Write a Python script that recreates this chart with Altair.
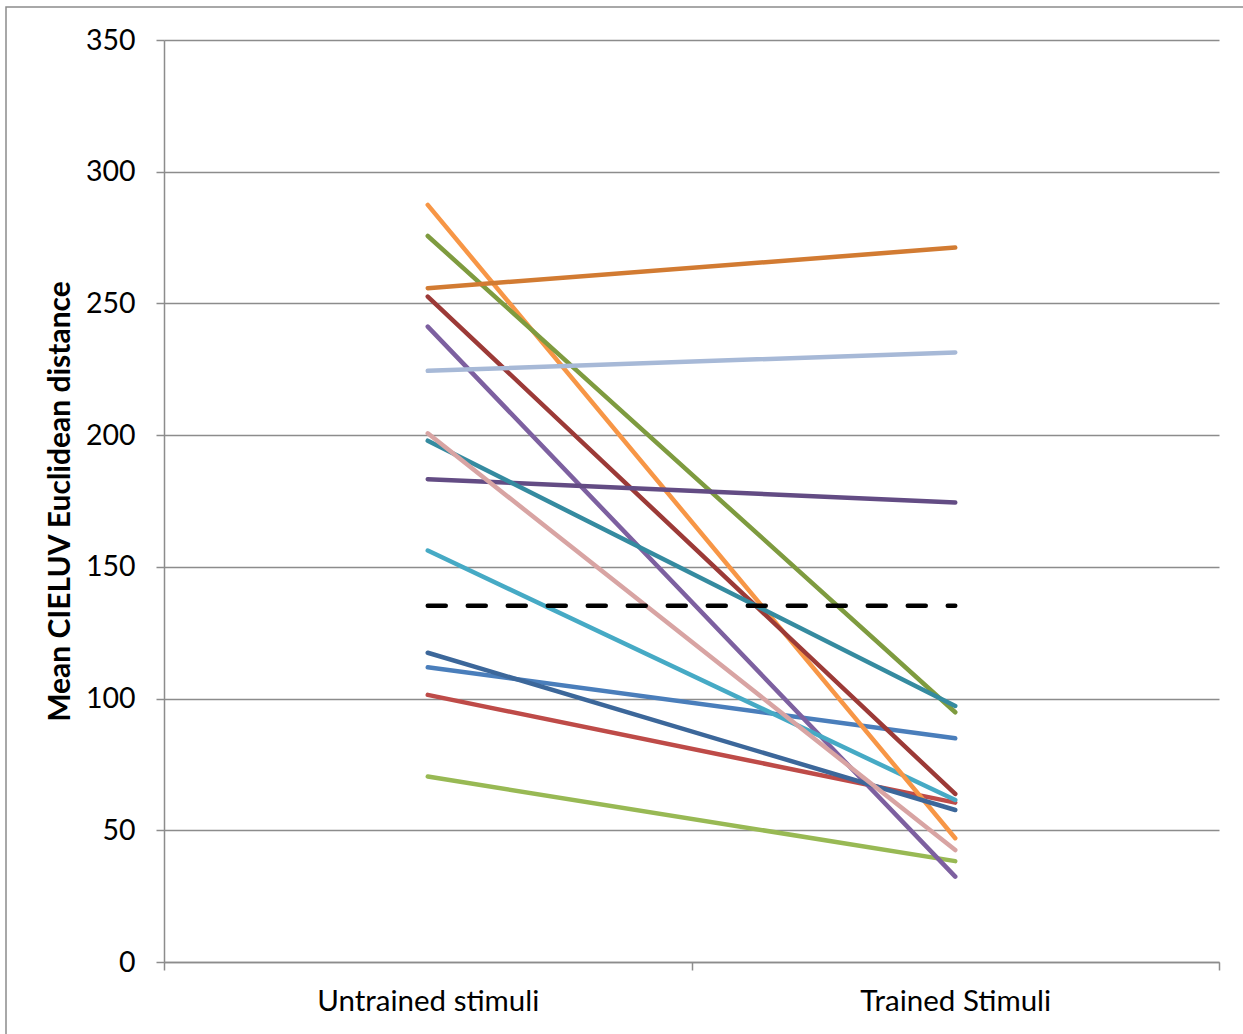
import altair as alt
import pandas as pd

conditions = ["Untrained stimuli", "Trained Stimuli"]
series = ["P1", "P2", "P3", "P4", "P5", "P6", "P7", "P8", "P9", "P10", "P11", "P12", "P13", "P14"]
untrained = [111.9, 101.4, 70.4, 241.2, 156.2, 287.4, 117.4, 252.6, 275.6, 183.3, 197.9, 255.8, 224.4, 200.7]
trained = [84.9, 60.5, 38.3, 32.4, 61.5, 47.0, 57.7, 63.8, 94.8, 174.4, 97.2, 271.2, 231.4, 42.5]
colors = ["#4A7EBB", "#BE4B48", "#98B954", "#7D60A0", "#46AAC5", "#F79646", "#3C679A",
          "#9C3A37", "#7E9B3F", "#634C84", "#358BA0", "#D27B32", "#A7B9D7", "#D8A4A3"]
threshold = [135.2, 135.2]

rows = []
for s, u, t in zip(series, untrained, trained):
    rows.append({"series": s, "condition": conditions[0], "value": u})
    rows.append({"series": s, "condition": conditions[1], "value": t})
df = pd.DataFrame(rows)
ref = pd.DataFrame({"condition": conditions, "value": threshold})

GRAY = "#8c8c8c"
FONT = "Lato"
pos_expr = "indexof(['Untrained stimuli', 'Trained Stimuli'], datum.condition) + 0.5"

x_axis = alt.Axis(
    values=[0, 0.5, 1, 1.5, 2],
    labelExpr="datum.value == 0.5 ? 'Untrained stimuli' : (datum.value == 1.5 ? 'Trained Stimuli' : '')",
    tickOpacity={"condition": {"test": "datum.value == 0.5 || datum.value == 1.5", "value": 0}, "value": 1},
    tickSize=8, tickColor=GRAY, tickWidth=1.5,
    domainColor=GRAY, domainWidth=1.5,
    grid=False, labelFont=FONT, labelFontSize=29.5, labelColor="black",
    labelPadding=17, title=None, labelOverlap=False, labelLimit=0,
)
y_axis = alt.Axis(
    values=list(range(0, 351, 50)),
    tickSize=8, tickColor=GRAY, tickWidth=1.5,
    domainColor=GRAY, domainWidth=1.5,
    grid=True, gridColor=GRAY, gridWidth=1.5,
    labelFont=FONT, labelFontSize=28.5, labelColor="black", labelPadding=21,
    title="Mean CIELUV Euclidean distance", titleFont=FONT, titleFontSize=30,
    titleFontWeight="bold", titleColor="black", titleLimit=0,
    titleX=-104, titleY=461, titleAngle=270, titleAlign="center", titleBaseline="middle",
)

x_enc = alt.X("pos:Q", scale=alt.Scale(domain=[0, 2], nice=False, zero=False), axis=x_axis)
y_enc = alt.Y("value:Q", scale=alt.Scale(domain=[0, 350], nice=False), axis=y_axis)

border = alt.Chart(pd.DataFrame({"a": [0]})).mark_rect(
    fillOpacity=0, stroke=GRAY, strokeWidth=1.5
).encode(x=alt.value(-158), x2=alt.value(1300), y=alt.value(-33), y2=alt.value(1300))

lines = alt.Chart(df).transform_calculate(pos=pos_expr).mark_line(
    strokeWidth=4.5, strokeCap="round"
).encode(
    x=x_enc, y=y_enc,
    color=alt.Color("series:N", scale=alt.Scale(domain=series, range=colors), legend=None),
)

dash = alt.Chart(ref).transform_calculate(pos=pos_expr).mark_line(
    color="black", strokeWidth=4.5, strokeDash=[18, 22], strokeCap="round"
).encode(x=x_enc, y=y_enc)

chart = alt.layer(border, lines, dash).properties(
    width=1055, height=922,
    autosize=alt.AutoSizeParams(type="none"),
    padding={"left": 164, "top": 40, "right": 24, "bottom": 72},
).configure_view(stroke=None)

chart.save("out.html", embed_options={"renderer": "svg", "actions": False})
